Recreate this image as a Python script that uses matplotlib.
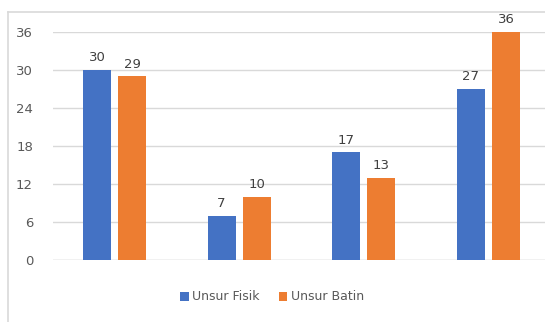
import matplotlib.pyplot as plt
import numpy as np
from matplotlib.lines import Line2D

categories = ["1", "2", "3", "4"]
fisik = [30, 7, 17, 27]
batin = [29, 10, 13, 36]
series_names = ["Unsur Fisik", "Unsur Batin"]
yticks = [0, 6, 12, 18, 24, 30, 36]

blue = "#4472C4"
orange = "#ED7D31"
gray_txt = "#595959"

fig = plt.figure(figsize=(5.45, 3.22), dpi=100)
fig.patch.set_facecolor("white")

# chart border: only left and top edges are inside the picture
bx, by = 7.5 / 545, 1 - 11.5 / 322
fig.lines.append(Line2D([bx, bx], [0, by], transform=fig.transFigure,
                        color="#D9D9D9", linewidth=1.2))
fig.lines.append(Line2D([bx, 1.05], [by, by], transform=fig.transFigure,
                        color="#D9D9D9", linewidth=1.2))

ax = fig.add_axes([52.5 / 545, 62 / 322, 498 / 545, 228 / 322])
x = np.arange(len(categories))
w = 0.224
off = 0.142
b1 = ax.bar(x - off, fisik, w, color=blue, label=series_names[0], zorder=3)
b2 = ax.bar(x + off, batin, w, color=orange, label=series_names[1], zorder=3)

for bars, vals in [(b1, fisik), (b2, batin)]:
    for r, v in zip(bars, vals):
        ax.annotate(str(v), (r.get_x() + r.get_width() / 2, v),
                    xytext=(0, 4), textcoords="offset points",
                    ha="center", va="bottom", fontsize=9.5, color="#404040")

ax.set_xlim(-0.5, 3.5)
ax.set_ylim(0, 36)
ax.set_yticks(yticks)
ax.set_yticklabels([str(t) for t in yticks], fontsize=9.5, color=gray_txt)
ax.set_xticks([])
ax.tick_params(axis="y", length=0, pad=14)
ax.grid(axis="y", color="#D9D9D9", linewidth=1, zorder=0)
for s in ax.spines.values():
    s.set_visible(False)
ax.axhline(0, color="#D9D9D9", linewidth=1, zorder=1)

fig.legend(handles=[b1, b2], labels=series_names, loc="center",
           bbox_to_anchor=(272 / 545, 1 - 297 / 322), ncol=2, frameon=False,
           fontsize=9, handlelength=0.7, handleheight=0.7, handletextpad=0.3,
           columnspacing=1.5, labelcolor=gray_txt)

fig.savefig("out.png", dpi=100)
